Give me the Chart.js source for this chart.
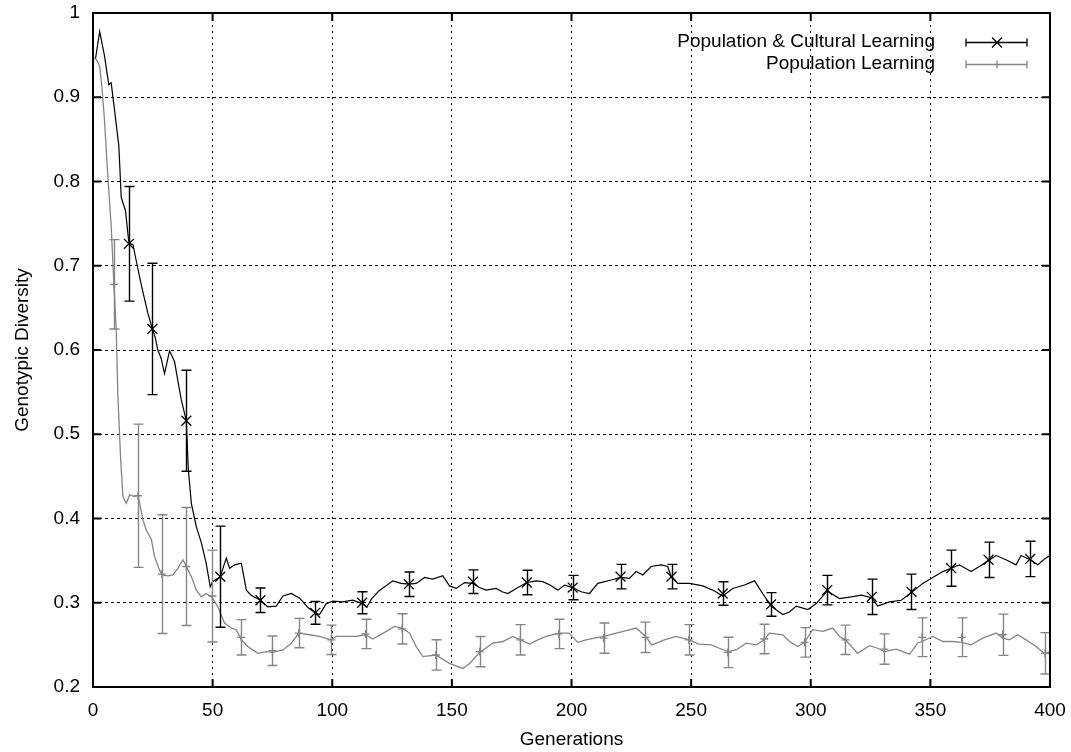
<!DOCTYPE html>
<html>
<head>
<meta charset="utf-8">
<script src="https://cdn.jsdelivr.net/npm/chart.js@4.4.1/dist/chart.umd.min.js"></script>
<style>
html, body { margin: 0; padding: 0; background: #fff; }
#wrap { width: 1071px; height: 752px; position: relative; }
</style>
</head>
<body>
<div id="wrap"><canvas id="diversityChart"></canvas></div>
<script>
const xTickValues = [0, 50, 100, 150, 200, 250, 300, 350, 400];
const yTickValues = [0.2, 0.3, 0.4, 0.5, 0.6, 0.7, 0.8, 0.9, 1];
const yTickLabels = ['0.2', '0.3', '0.4', '0.5', '0.6', '0.7', '0.8', '0.9', '1'];

const seriesNames = ['Population & Cultural Learning', 'Population Learning'];

// Population & Cultural Learning - mean diversity per generation
const pclGen = [1, 2.8, 4.8, 6.6, 7.6, 9.2, 10.8, 11.8, 13.6, 15, 16.7, 18.5, 20.2, 22.9, 24.8, 26, 27.1, 28.5, 29.9, 32,
  34.1, 35.5, 36.9, 39, 39.8, 41.1, 43.2, 45.3, 47.3, 49, 50, 53.2, 55.7, 57.1, 59.2, 62, 64.1, 66.1, 70, 73.1,
  76.6, 79.4, 82.9, 86.5, 90, 92.9, 94.7, 97.5, 100.3, 104.4, 108.6, 112.5, 114.5, 116.5, 119.5, 125.3, 128.8, 132, 135.1, 138.6,
  142, 146.2, 149, 151.8, 155.3, 158.8, 161.5, 164.3, 168.5, 171, 173.4, 176.9, 181.3, 185.2, 188, 191, 194.3, 197.1, 200.5, 204,
  207.5, 211, 216.6, 220.5, 224.2, 227, 229.8, 233.3, 237.5, 240.2, 241.8, 244.4, 249.3, 254.9, 259.8, 263.2, 267.4, 272.3, 276.5, 279.9,
  283.4, 288.3, 291.1, 293.9, 298.8, 302.3, 306.9, 312, 316.9, 321.1, 325.5, 328, 332.9, 337.8, 342.1, 346.8, 351, 355.2, 358.7, 362.1,
  367, 370.5, 374.3, 377.5, 381.6, 385.8, 387.9, 391.7, 394.9, 397.7, 400];
const pclDiv = [0.945, 0.978, 0.949, 0.915, 0.917, 0.88, 0.842, 0.781, 0.765, 0.727, 0.725, 0.70, 0.677, 0.644, 0.625, 0.615, 0.600, 0.590, 0.572, 0.599,
  0.586, 0.563, 0.541, 0.516, 0.46, 0.418, 0.390, 0.371, 0.347, 0.319, 0.325, 0.331, 0.353, 0.341, 0.345, 0.347, 0.315, 0.309, 0.303, 0.295,
  0.296, 0.308, 0.311, 0.305, 0.294, 0.288, 0.286, 0.299, 0.302, 0.301, 0.303, 0.299, 0.295, 0.305, 0.314, 0.326, 0.323, 0.322, 0.323, 0.330,
  0.328, 0.332, 0.320, 0.317, 0.324, 0.323, 0.318, 0.315, 0.317, 0.313, 0.311, 0.317, 0.324, 0.326, 0.325, 0.321, 0.315, 0.321, 0.318, 0.313,
  0.311, 0.323, 0.327, 0.330, 0.329, 0.337, 0.333, 0.343, 0.345, 0.343, 0.330, 0.323, 0.323, 0.320, 0.314, 0.308, 0.317, 0.321, 0.326, 0.311,
  0.296, 0.286, 0.289, 0.296, 0.292, 0.299, 0.314, 0.305, 0.307, 0.309, 0.306, 0.296, 0.301, 0.303, 0.312, 0.323, 0.330, 0.337, 0.341, 0.345,
  0.337, 0.343, 0.350, 0.356, 0.351, 0.345, 0.356, 0.351, 0.345, 0.352, 0.356];
const pclBarGen = [15, 24.8, 39, 53.2, 70, 92.9, 112.5, 132, 158.8, 181.3, 200.5, 220.5, 241.8, 263.2, 283.4, 306.9, 325.5, 342.1, 358.7, 374.3, 391.7];
const pclBarMean = [0.726, 0.625, 0.516, 0.331, 0.303, 0.288, 0.300, 0.322, 0.325, 0.324, 0.318, 0.331, 0.331, 0.311, 0.298, 0.315, 0.307, 0.313, 0.341, 0.351, 0.352];
const pclBarErr = [0.068, 0.078, 0.060, 0.060, 0.0145, 0.0135, 0.013, 0.0145, 0.014, 0.0145, 0.0145, 0.0145, 0.0145, 0.014, 0.014, 0.0175, 0.021, 0.021, 0.0215, 0.021, 0.021];

// Population Learning - mean diversity per generation
const plGen = [0.5, 1.4, 2.8, 3.7, 4.8, 6.2, 7.6, 8.7, 9.7, 10.4, 11.5, 12.5, 13.9, 15.3, 17.4, 18.8, 20.9, 22.3, 24.4, 25.7,
  27.8, 28.8, 31.3, 33.4, 35.5, 37.6, 39, 41.1, 43.2, 45.3, 47.3, 49.9, 52.2, 55, 57.8, 59.9, 62, 64.7, 68.9, 72.4,
  75, 79.4, 82.9, 86, 90.5, 94.7, 99.5, 101.7, 107.2, 110, 113.9, 117, 122.6, 126, 129.2, 132.3, 135.1, 137.9, 143.3, 149,
  154.6, 157.4, 161.6, 167.1, 171.3, 175.5, 178.6, 182.5, 185.9, 189.4, 194.7, 199, 202.6, 206.1, 209.6, 213.4, 218.7, 222.9, 227, 231,
  233.6, 238.8, 243.7, 249.2, 253.2, 258.4, 261.8, 265.3, 268.8, 273, 277.2, 280.6, 282.7, 288.3, 291.1, 294.6, 297.4, 300.8, 305, 309.2,
  312, 314.5, 319.6, 324.5, 328, 330.8, 335.7, 341.3, 344.7, 346.5, 351, 355.2, 359.3, 363.1, 367, 371.9, 377.5, 380.2, 383, 386.5,
  390, 394.2, 397.9, 400];
const plDiv = [0.947, 0.945, 0.937, 0.913, 0.873, 0.806, 0.747, 0.68, 0.624, 0.545, 0.474, 0.426, 0.418, 0.428, 0.426, 0.428, 0.398, 0.386, 0.375, 0.355,
  0.339, 0.333, 0.332, 0.333, 0.341, 0.351, 0.343, 0.331, 0.315, 0.307, 0.311, 0.306, 0.295, 0.276, 0.270, 0.268, 0.256, 0.248, 0.240, 0.242,
  0.241, 0.244, 0.252, 0.264, 0.262, 0.260, 0.256, 0.260, 0.260, 0.260, 0.262, 0.257, 0.266, 0.272, 0.270, 0.264, 0.248, 0.236, 0.238, 0.228,
  0.222, 0.228, 0.241, 0.252, 0.254, 0.260, 0.256, 0.251, 0.256, 0.260, 0.264, 0.264, 0.253, 0.256, 0.258, 0.260, 0.264, 0.267, 0.270, 0.260,
  0.250, 0.256, 0.260, 0.256, 0.251, 0.250, 0.246, 0.242, 0.244, 0.252, 0.250, 0.256, 0.264, 0.262, 0.254, 0.248, 0.253, 0.268, 0.266, 0.270,
  0.260, 0.256, 0.240, 0.249, 0.246, 0.242, 0.245, 0.239, 0.252, 0.254, 0.260, 0.254, 0.254, 0.253, 0.250, 0.258, 0.264, 0.258, 0.256, 0.262,
  0.256, 0.248, 0.239, 0.242];
const plBarGen = [8.7, 18.8, 28.8, 39, 49.9, 62, 75, 86, 99.6, 113.9, 129.2, 143.3, 161.6, 178.6, 194.7, 213.4, 230.9, 249, 265.3, 280.6, 297.4, 314.5, 330.8, 346.5, 363.1, 380.2, 397.9];
const plBarMean = [0.678, 0.427, 0.334, 0.343, 0.308, 0.259, 0.243, 0.264, 0.256, 0.263, 0.269, 0.238, 0.242, 0.256, 0.263, 0.258, 0.259, 0.256, 0.241, 0.257, 0.253, 0.256, 0.245, 0.259, 0.259, 0.262, 0.240];
const plBarErr = [0.053, 0.085, 0.0705, 0.07, 0.0545, 0.021, 0.0175, 0.0175, 0.0175, 0.0175, 0.018, 0.018, 0.018, 0.018, 0.0175, 0.018, 0.018, 0.018, 0.018, 0.0175, 0.0175, 0.0175, 0.018, 0.023, 0.023, 0.0245, 0.0245];

const FONT = '"Liberation Sans", Arial, sans-serif';
const BLACK = '#000000';
const GREY = '#858585';

function toPoints(xs, ys) {
    return xs.map((x, i) => ({ x: x, y: ys[i] }));
}

const errorSets = [
    { gen: pclBarGen, mean: pclBarMean, err: pclBarErr, color: BLACK },
    { gen: plBarGen, mean: plBarMean, err: plBarErr, color: GREY }
];

// gnuplot-style error bars with caps
const errorBarPlugin = {
    id: 'errorBars',
    afterDatasetsDraw(chart) {
        const ctx = chart.ctx;
        const xs = chart.scales.x, ys = chart.scales.y;
        ctx.save();
        ctx.lineWidth = 1.4;
        errorSets.forEach(set => {
            ctx.strokeStyle = set.color;
            set.gen.forEach((g, i) => {
                const px = Math.round(xs.getPixelForValue(g)) + 0.5;
                const top = ys.getPixelForValue(set.mean[i] + set.err[i]);
                const bot = ys.getPixelForValue(set.mean[i] - set.err[i]);
                ctx.beginPath();
                ctx.moveTo(px, top); ctx.lineTo(px, bot);
                ctx.moveTo(px - 5, top); ctx.lineTo(px + 5, top);
                ctx.moveTo(px - 5, bot); ctx.lineTo(px + 5, bot);
                ctx.stroke();
            });
        });
        ctx.restore();
    }
};

// border box, inward tick marks and key
const framePlugin = {
    id: 'frame',
    afterDraw(chart) {
        const ctx = chart.ctx;
        const a = chart.chartArea;
        const xs = chart.scales.x, ys = chart.scales.y;
        ctx.save();
        ctx.strokeStyle = BLACK;
        ctx.lineWidth = 2;
        ctx.strokeRect(a.left, a.top, a.right - a.left, a.bottom - a.top);
        ctx.beginPath();
        xTickValues.forEach(v => {
            const px = xs.getPixelForValue(v);
            ctx.moveTo(px, a.bottom); ctx.lineTo(px, a.bottom - 8);
            ctx.moveTo(px, a.top); ctx.lineTo(px, a.top + 8);
        });
        yTickValues.forEach(v => {
            const py = ys.getPixelForValue(v);
            ctx.moveTo(a.left, py); ctx.lineTo(a.left + 8, py);
            ctx.moveTo(a.right, py); ctx.lineTo(a.right - 8, py);
        });
        ctx.stroke();

        // key
        ctx.font = '19px ' + FONT;
        ctx.textAlign = 'right';
        ctx.textBaseline = 'middle';
        const rows = [
            { y: 42, color: BLACK, style: 'x' },
            { y: 64, color: GREY, style: '+' }
        ];
        rows.forEach((r, i) => {
            ctx.fillStyle = BLACK;
            ctx.fillText(seriesNames[i], 935, r.y);
            ctx.strokeStyle = r.color;
            ctx.lineWidth = 1.3;
            const y = r.y + 0.5;
            ctx.beginPath();
            ctx.moveTo(966, y); ctx.lineTo(1027, y);
            ctx.moveTo(966, y - 4); ctx.lineTo(966, y + 4);
            ctx.moveTo(1027, y - 4); ctx.lineTo(1027, y + 4);
            if (r.style === 'x') {
                ctx.moveTo(992, y - 5); ctx.lineTo(1002, y + 5);
                ctx.moveTo(992, y + 5); ctx.lineTo(1002, y - 5);
            } else {
                ctx.moveTo(997, y - 4); ctx.lineTo(997, y + 4);
            }
            ctx.stroke();
        });
        ctx.restore();
    }
};

const ctx = document.getElementById('diversityChart').getContext('2d');
const diversityChart = new Chart(ctx, {
    type: 'line',
    data: {
        datasets: [{
            label: seriesNames[1] + ' markers',
            data: toPoints(plBarGen, plBarMean),
            showLine: false,
            pointStyle: 'cross',
            pointRadius: 4,
            borderColor: GREY,
            borderWidth: 1.3
        }, {
            label: seriesNames[1],
            data: toPoints(plGen, plDiv),
            borderColor: GREY,
            borderWidth: 1.3,
            pointRadius: 0,
            tension: 0,
            fill: false
        }, {
            label: seriesNames[0] + ' markers',
            data: toPoints(pclBarGen, pclBarMean),
            showLine: false,
            pointStyle: 'crossRot',
            pointRadius: 7,
            borderColor: BLACK,
            borderWidth: 1.3
        }, {
            label: seriesNames[0],
            data: toPoints(pclGen, pclDiv),
            borderColor: BLACK,
            borderWidth: 1.2,
            pointRadius: 0,
            tension: 0,
            fill: false
        }]
    },
    options: {
        responsive: true,
        maintainAspectRatio: false,
        animation: false,
        events: [],
        layout: { padding: { top: 13, right: 21, left: 0, bottom: 0 } },
        plugins: {
            legend: { display: false },
            tooltip: { enabled: false }
        },
        scales: {
            x: {
                type: 'linear',
                min: 0,
                max: 400,
                afterFit(scale) {
                    scale.height = 65;
                    scale.paddingLeft = 0;
                    scale.paddingRight = 0;
                },
                afterBuildTicks(scale) { scale.ticks = xTickValues.map(v => ({ value: v })); },
                ticks: {
                    padding: 12,
                    color: BLACK,
                    font: { family: FONT, size: 19 },
                    maxRotation: 0,
                    callback: v => String(v)
                },
                grid: { color: BLACK, lineWidth: 1, drawTicks: false },
                border: { display: false, dash: [2, 4] },
                title: {
                    display: true,
                    text: 'Generations',
                    color: BLACK,
                    font: { family: FONT, size: 19 },
                    padding: { top: 0, bottom: 1 }
                }
            },
            y: {
                type: 'linear',
                min: 0.2,
                max: 1,
                afterFit(scale) {
                    scale.width = 93;
                    scale.paddingTop = 0;
                    scale.paddingBottom = 0;
                },
                afterBuildTicks(scale) { scale.ticks = yTickValues.map(v => ({ value: v })); },
                ticks: {
                    padding: 13,
                    color: BLACK,
                    font: { family: FONT, size: 19 },
                    callback: (v, i) => yTickLabels[i]
                },
                grid: { color: BLACK, lineWidth: 1, drawTicks: false },
                border: { display: false, dash: [3, 3] },
                title: {
                    display: true,
                    text: 'Genotypic Diversity',
                    color: BLACK,
                    font: { family: FONT, size: 19 },
                    padding: { top: 11, bottom: 0 }
                }
            }
        }
    },
    plugins: [errorBarPlugin, framePlugin]
});
</script>
</body>
</html>
